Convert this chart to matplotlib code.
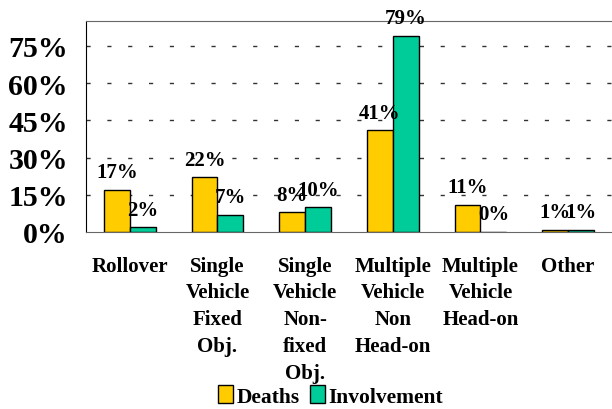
import matplotlib.pyplot as plt
import numpy as np

categories = ["Rollover", "Single\nVehicle\nFixed\nObj.", "Single\nVehicle\nNon-\nfixed\nObj.",
              "Multiple\nVehicle\nNon\nHead-on", "Multiple\nVehicle\nHead-on", "Other"]
deaths = [17, 22, 8, 41, 11, 1]
involvement = [2, 7, 10, 79, 0, 1]
yticks = [0, 15, 30, 45, 60, 75]

plt.rcParams['font.family'] = ['Liberation Serif', 'DejaVu Serif']
plt.rcParams['font.weight'] = 'bold'

fig = plt.figure(figsize=(6.12, 4.10), dpi=100)
ax = fig.add_axes([86 / 612, 1 - 233 / 410, 1 - 86 / 612, 211 / 410])

x = np.arange(len(categories))
w = 0.295
b1 = ax.bar(x - w / 2, deaths, w, color="#FFCC00", edgecolor="black", linewidth=1, label="Deaths", zorder=3)
b2 = ax.bar(x + w / 2, involvement, w, color="#00CC99", edgecolor="black", linewidth=1, label="Involvement", zorder=3)

for bars, vals in ((b1, deaths), (b2, involvement)):
    for r, v in zip(bars, vals):
        ax.annotate(f"{v}%", (r.get_x() + r.get_width() / 2, r.get_height()),
                    xytext=(0, 9), textcoords="offset points", ha="center", va="baseline",
                    fontsize=15, fontweight="bold", zorder=4)

ax.set_xlim(-0.5, len(categories) - 0.5)
ax.set_ylim(0, 85)
ax.set_yticks(yticks, labels=[f"{t}%" for t in yticks], fontsize=21.5, fontweight="bold")
ax.set_xticks(x, labels=categories, fontsize=15, fontweight="bold", linespacing=1.45, va="top")
ax.tick_params(axis="both", length=0)
ax.tick_params(axis="y", pad=13)
ax.tick_params(axis="x", pad=17)

for t in yticks[1:]:
    ax.axhline(t, color="#333333", linewidth=1, dashes=(3, 12), zorder=1)

ax.spines["right"].set_visible(False)
ax.spines["top"].set_color("#666666")
ax.spines["bottom"].set_color("#666666")
ax.spines["left"].set_color("black")

fig.legend(handles=[b1, b2], loc="center", bbox_to_anchor=(0.54, 0.032), ncol=2, frameon=False,
           prop={"size": 15.5, "weight": "bold"}, handlelength=0.7, handleheight=0.9,
           handletextpad=0.15, columnspacing=0.5, borderpad=0)

fig.savefig("out.png", dpi=100)
